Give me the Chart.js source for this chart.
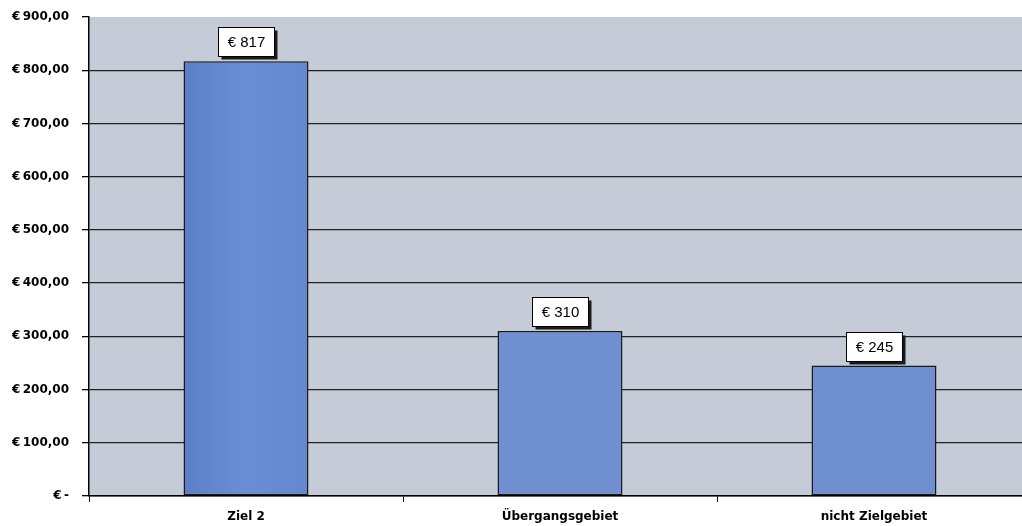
<!DOCTYPE html>
<html>
<head>
<meta charset="utf-8">
<script src="https://cdn.jsdelivr.net/npm/chart.js@4.4.1/dist/chart.umd.min.js"></script>
<style>
  html, body { margin: 0; padding: 0; background: #ffffff; overflow: hidden; }
  #wrap { width: 1040px; height: 526px; }
</style>
</head>
<body>
<div id="wrap"><canvas id="c" width="1040" height="526"></canvas></div>
<script>
// Kosten je Projekt nach Gebietskategorie
const categories = ['Ziel 2', 'Übergangsgebiet', 'nicht Zielgebiet'];
const values = [817, 310, 245];
const valueLabels = ['€ 817', '€ 310', '€ 245'];
const yMax = 900;
const yStep = 100;

const fmtEuro = v => v === 0 ? '€\u2009-' : '€\u2009' + v.toFixed(2).replace('.', ',');

// grey plot area
const plotBg = {
  id: 'plotBg',
  beforeDraw(chart) {
    const { ctx, chartArea: a } = chart;
    ctx.save();
    ctx.fillStyle = '#c5cbd7';
    ctx.fillRect(a.left, a.top, a.right - a.left, a.bottom - a.top);
    ctx.restore();
  }
};

// boxed value labels above bars
const boxLabels = {
  id: 'boxLabels',
  afterDatasetsDraw(chart) {
    const { ctx } = chart;
    const meta = chart.getDatasetMeta(0);
    ctx.save();
    ctx.font = '15px "Liberation Sans", Arial, sans-serif';
    ctx.textAlign = 'center';
    ctx.textBaseline = 'middle';
    meta.data.forEach((bar, i) => {
      const w = 56, h = 29;
      const x = Math.round(bar.x - w / 2) + 0.5;
      const y = Math.round(bar.y - h - 5) + 0.5;
      ctx.fillStyle = '#1a1a1a';
      ctx.fillRect(x + 3, y + 3, w, h);
      ctx.fillStyle = '#ffffff';
      ctx.fillRect(x, y, w, h);
      ctx.strokeStyle = '#000000';
      ctx.lineWidth = 1;
      ctx.strokeRect(x, y, w, h);
      ctx.fillStyle = '#000000';
      ctx.fillText(valueLabels[i], x + w / 2, y + h / 2 + 1);
    });
    ctx.restore();
  }
};

const ctx = document.getElementById('c').getContext('2d');

function barFill(context) {
  const chart = context.chart;
  const xs = chart.scales && chart.scales.x;
  if (context.dataIndex === 0 && xs && chart.chartArea) {
    const cx = xs.getPixelForValue(0);
    const half = 63;
    if (isFinite(cx)) {
      const g = chart.ctx.createLinearGradient(cx - half, 0, cx + half, 0);
      g.addColorStop(0, '#5a80c8');
      g.addColorStop(0.5, '#6a8ed3');
      g.addColorStop(1, '#6388cd');
      return g;
    }
  }
  return context.dataIndex === 0 ? '#6488cd' : '#6f8fd1';
}

new Chart(ctx, {
  type: 'bar',
  data: {
    labels: categories,
    datasets: [{
      data: values,
      backgroundColor: barFill,
      borderColor: '#1a1a1a',
      borderWidth: 1.5,
      borderSkipped: false,
      categoryPercentage: 1,
      barPercentage: 0.398
    }]
  },
  options: {
    responsive: false,
    animation: false,
    devicePixelRatio: 1,
    layout: { padding: { top: 17, right: 9, left: 0, bottom: 0 } },
    plugins: {
      legend: { display: false },
      tooltip: { enabled: false }
    },
    scales: {
      x: {
        offset: true,
        grid: {
          offset: true,
          drawOnChartArea: false,
          drawTicks: true,
          tickLength: 6,
          color: '#000000'
        },
        border: { display: true, color: '#000000', width: 1.5 },
        ticks: {
          color: '#000000',
          padding: 8,
          font: { family: '"DejaVu Sans", sans-serif', size: 12, weight: 'bold' }
        },
        afterFit(scale) { scale.height = 30; scale.paddingLeft = 0; scale.paddingRight = 0; }
      },
      y: {
        min: 0,
        max: yMax,
        ticks: {
          stepSize: yStep,
          color: '#000000',
          padding: 13,
          font: { family: '"DejaVu Sans", sans-serif', size: 12, weight: 'bold' },
          callback: v => fmtEuro(v)
        },
        grid: {
          color: ctx => (ctx.tick && ctx.tick.value === yMax) ? 'rgba(0,0,0,0)' : '#222222',
          tickColor: '#000000',
          lineWidth: 1.3,
          tickLength: 7,
          drawTicks: true
        },
        border: { display: true, color: '#000000', width: 1.5 },
        afterFit(scale) { scale.width = 89; scale.paddingTop = 0; scale.paddingBottom = 0; }
      }
    }
  },
  plugins: [plotBg, boxLabels]
});
</script>
</body>
</html>
